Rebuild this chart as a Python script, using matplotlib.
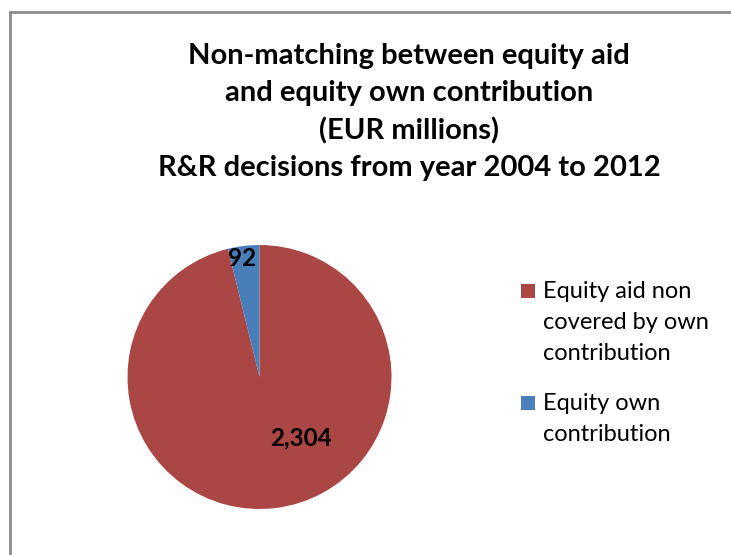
import matplotlib.pyplot as plt
import matplotlib as mpl
from matplotlib.lines import Line2D
from matplotlib.patches import Rectangle

mpl.rcParams['font.family'] = ['Lato', 'DejaVu Sans']

# data
categories = ['Equity aid non\ncovered by own\ncontribution', 'Equity own\ncontribution']
values = [2304, 92]
colors = ['#AA4643', '#4A7EBB']
title = ('Non-matching between equity aid\nand equity own contribution\n'
         '(EUR millions)\nR&R decisions from year 2004 to 2012')

W, H = 731, 555
fig = plt.figure(figsize=(W / 100, H / 100), dpi=100)

# border (top and left only visible in the crop)
fig.add_artist(Line2D([10 / W, 1], [1 - 12 / H, 1 - 12 / H], color='#8c8c8c', lw=2))
fig.add_artist(Line2D([10 / W, 10 / W], [0, 1 - 12 / H], color='#8c8c8c', lw=2))

fig.text(409 / W, 1 - 112 / H, title, ha='center', va='center', fontsize=21,
         fontweight='bold', linespacing=1.51)

# pie
cx, cy, r = 259.5, 377, 132
ax = fig.add_axes([(cx - r) / W, (H - cy - r) / H, 2 * r / W, 2 * r / H])
wedges, _ = ax.pie(values, colors=colors, startangle=90, counterclock=False,
                   radius=1)
ax.set_xlim(-1, 1)
ax.set_ylim(-1, 1)
ax.set_aspect('equal')
ax.axis('off')

# data labels
ax.text(-0.133, 0.9, f'{values[1]:,}', ha='center', va='center', fontsize=17.5, fontweight='bold')
ax.text(0.314, -0.465, f'{values[0]:,}', ha='center', va='center', fontsize=17.5, fontweight='bold')

# legend, drawn by hand so the marker sits on the first line
first_line = [291, 403]
step = 31.5
for w, lab, y0 in zip(wedges, categories, first_line):
    n = lab.count('\n')
    yc = y0 + n * step / 2
    fig.text(543 / W, 1 - yc / H, lab, ha='left', va='center', fontsize=17,
             linespacing=1.57)
    fig.add_artist(Rectangle((521 / W, 1 - (y0 + 7) / H), 14 / W, 14 / H,
                             facecolor=w.get_facecolor(), edgecolor='none',
                             transform=fig.transFigure))

plt.savefig('out.png', dpi=100)
